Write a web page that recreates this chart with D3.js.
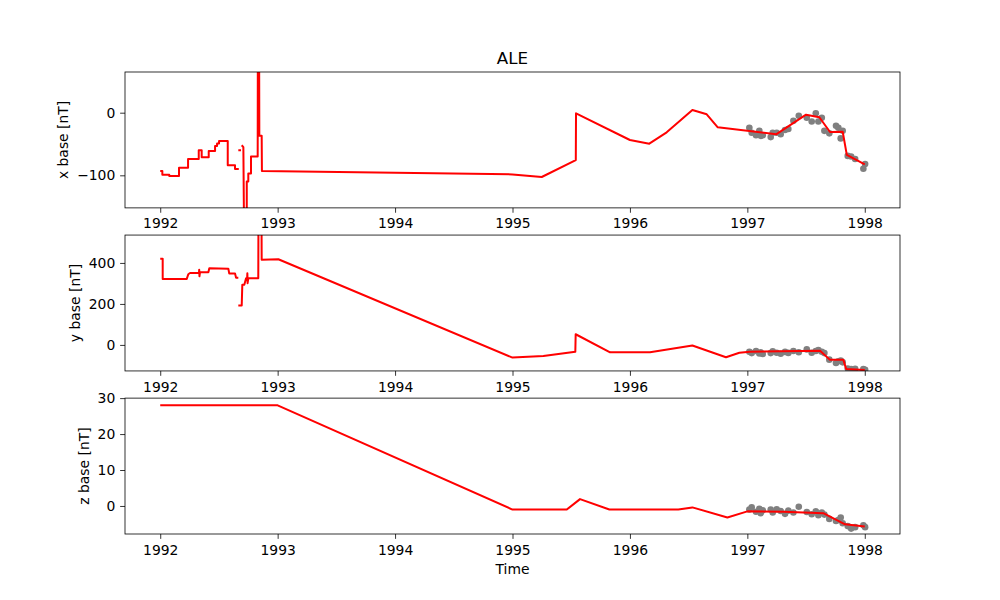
<!DOCTYPE html>
<html>
<head>
<meta charset="utf-8">
<script src="https://cdn.jsdelivr.net/npm/d3@7"></script>
<style>
  body { margin: 0; background: #fff; }
  text { font-family: "DejaVu Sans", sans-serif; font-size: 13.9px; fill: #000; }
</style>
</head>
<body>
<svg id="fig"></svg>
<script>
// station + axis text
var station = 'ALE';
var yLabels = ['x base [nT]', 'y base [nT]', 'z base [nT]'];
var timeTicks = [1992, 1993, 1994, 1995, 1996, 1997, 1998];
var xBaseTicks = [-100, 0];
var yBaseTicks = [0, 200, 400];
var zBaseTicks = [0, 10, 20, 30];

// adopted baseline (red), decimal years; null = gap in the record
var xLineT = [1992.0, 1992.018, 1992.018, 1992.077, 1992.077, 1992.16, 1992.16, 1992.237, 1992.237, 1992.328,
  1992.328, 1992.353, 1992.353, 1992.413, 1992.413, 1992.467, 1992.467, 1992.484, 1992.484, 1992.501,
  1992.501, 1992.575, 1992.575, 1992.637, 1992.637, 1992.669, null, 1992.665, 1992.688, null,
  1992.694, 1992.708, 1992.714, 1992.737, 1992.737, 1992.75, 1992.75, 1992.773, 1992.773, 1992.83,
  1992.832, 1992.841, 1992.844, 1992.864, 1992.866, 1995.0, 1995.249, 1995.539, 1995.541, 1996.0,
  1996.165, 1996.313, 1996.532, 1996.654, 1996.748, 1997.245, 1997.5, 1997.613, 1997.704, 1997.812,
  1997.847, 1998.0];
var xLineV = [-93, -93, -99, -99, -101, -101, -88, -88, -74, -74,
  -60, -60, -71, -71, -61, -61, -53, -53, -49, -49,
  -45, -45, -84, -84, -90, -90, null, -60, -60, null,
  -52, -55, -190, -190, -110, -110, -97, -97, -70, -70,
  200, 200, -37, -37, -93, -98.5, -102.7, -75.6, -1, -43.6,
  -49.5, -31.3, 4.3, -2.6, -23.3, -34.5, -3.2, -7.3, -30.8, -30.4,
  -67.3, -82.7];

var yLineT = [1992.0, 1992.021, 1992.021, 1992.226, 1992.239, 1992.254, 1992.33, 1992.332, 1992.334, 1992.339,
  1992.41, 1992.418, 1992.58, 1992.588, 1992.637, 1992.646, 1992.665, null, 1992.665, 1992.694,
  1992.699, 1992.716, 1992.731, 1992.74, 1992.742, 1992.744, 1992.75, 1992.835, 1992.837, 1992.862,
  1992.864, 1993.006, 1995.0, 1995.263, 1995.535, 1995.538, 1995.831, 1996.171, 1996.532, 1996.818,
  1996.932, 1997.02, 1997.619, 1997.704, 1997.818, 1997.841, 1998.0];
var yLineV = [420, 420, 322, 322, 345, 351, 351, 367, 335, 355,
  355, 374, 372, 348, 348, 328, 328, null, 192, 192,
  293, 293, 325, 325, 350, 301, 325, 325, 700, 700,
  415, 418, -62, -54, -33, 52, -36, -36, -3, -60,
  -38, -33, -28, -73, -73, -117, -123];

var zLineT = [1992.0, 1993.0, 1995.0, 1995.462, 1995.575, 1995.825, 1996.412, 1996.532, 1996.83, 1997.0,
  1997.307, 1997.647, 1997.832, 1998.0];
var zLineV = [28, 28, -1, -1, 1.9, -1, -1, -0.4, -3.2, -1.5,
  -1.6, -2.0, -5.1, -5.7];

// absolute measurements (grey dots)
var dotT = [1997.017, 1997.037, 1997.074, 1997.102, 1997.114, 1997.131, 1997.199, 1997.216, 1997.25, 1997.284,
  1997.321, 1997.349, 1997.392, 1997.438, 1997.506, 1997.548, 1997.583, 1997.605, 1997.634, 1997.656,
  1997.698, 1997.755, 1997.775, 1997.812, 1997.795, 1997.855, 1997.884, 1997.918, 1998.003, 1997.988];
var dotX = [-24, -32, -36, -29, -37, -36, -39, -32, -32, -34.5,
  -27.6, -26, -13, -5, -8, -14, -1, -14, -8, -29,
  -33, -21, -24, -29, -41, -69, -70, -74, -82, -89.5];
var dotY = [-33, -40, -30, -42, -36, -44, -40, -31, -38, -43,
  -34, -39, -30, -36, -22, -38, -30, -25, -33, -40,
  -72, -88, -80, -85, -76, -115, -118, -117, -122, -118];
var dotZ = [-1.0, -0.4, -1.6, -0.8, -2.0, -1.2, -1.0, -1.8, -0.9, -1.4,
  -2.2, -1.3, -1.8, -0.2, -1.7, -2.3, -1.5, -2.6, -1.8, -2.4,
  -3.6, -4.2, -3.9, -4.8, -3.2, -5.6, -6.3, -5.9, -5.9, -5.4];

var panels = [
  { label: yLabels[0], t: xLineT, v: xLineV, dots: dotX, domain: [-152, 65], ticks: xBaseTicks },
  { label: yLabels[1], t: yLineT, v: yLineV, dots: dotY, domain: [-127, 536], ticks: yBaseTicks },
  { label: yLabels[2], t: zLineT, v: zLineV, dots: dotZ, domain: [-7.8, 30], ticks: zBaseTicks }
];

var W = 1000, H = 600;
var left = 125, right = 900, top0 = 72, bottom0 = 534;
var hspace = 0.2;
var ph = (bottom0 - top0) / (3 + 2 * hspace);
var tickLen = 4.86, tickPad = 4.86;

var svg = d3.select('#fig').attr('width', W).attr('height', H);

var x = d3.scaleLinear().domain([1991.7, 1998.3]).range([left, right]);

panels.forEach(function(p, i) {
  var top = top0 + i * ph * (1 + hspace);
  var y = d3.scaleLinear().domain(p.domain).range([top + ph, top]);
  var g = svg.append('g');

  g.append('clipPath').attr('id', 'clip' + i)
    .append('rect')
    .attr('x', left).attr('y', top)
    .attr('width', right - left).attr('height', ph);

  var plot = g.append('g').attr('clip-path', 'url(#clip' + i + ')');

  plot.selectAll('circle').data(p.dots).enter()
    .append('circle')
    .attr('cx', function(d, j) { return x(dotT[j]); })
    .attr('cy', function(d) { return y(d); })
    .attr('r', 3.3)
    .attr('fill', 'gray');

  var line = d3.line()
    .defined(function(d, j) { return p.v[j] != null; })
    .x(function(d, j) { return x(p.t[j]); })
    .y(function(d, j) { return y(p.v[j]); });

  plot.append('path')
    .attr('d', line(p.t))
    .attr('fill', 'none')
    .attr('stroke', 'red')
    .attr('stroke-width', 2)
    .attr('stroke-linejoin', 'round');

  // axes
  var ax = g.append('g').attr('transform', 'translate(0,' + (top + ph) + ')')
    .call(d3.axisBottom(x).tickValues(timeTicks).tickFormat(d3.format('d'))
      .tickSizeInner(tickLen).tickSizeOuter(0).tickPadding(tickPad));
  var ay = g.append('g').attr('transform', 'translate(' + left + ',0)')
    .call(d3.axisLeft(y).tickValues(p.ticks)
      .tickSizeInner(tickLen).tickSizeOuter(0).tickPadding(tickPad));
  [ax, ay].forEach(function(a) {
    a.attr('font-size', null).attr('font-family', null);
    a.select('.domain').remove();
    a.selectAll('.tick line').attr('stroke-width', 0.8);
  });
  ax.selectAll('.tick text').attr('y', tickLen + tickPad + 1).attr('dy', '0.71em');

  g.append('rect')
    .attr('x', left).attr('y', top)
    .attr('width', right - left).attr('height', ph)
    .attr('fill', 'none').attr('stroke', '#000').attr('stroke-width', 0.8);

  // y label placed left of the widest tick label
  var minX = d3.min(ay.selectAll('.tick text').nodes(), function(n) {
    var b = n.getBBox();
    return left + b.x;
  });
  g.append('text')
    .attr('transform', 'translate(' + (minX - 5.56 - 3.3) + ',' + (top + ph / 2) + ') rotate(-90)')
    .attr('text-anchor', 'middle')
    .text(p.label);

  if (i === 0) {
    g.append('text')
      .attr('x', (left + right) / 2).attr('y', top - 8.5)
      .attr('text-anchor', 'middle')
      .style('font-size', '16.7px')
      .text(station);
  }
  if (i === 2) {
    g.append('text')
      .attr('x', (left + right) / 2).attr('y', 574)
      .attr('text-anchor', 'middle')
      .text('Time');
  }
});
</script>
</body>
</html>
